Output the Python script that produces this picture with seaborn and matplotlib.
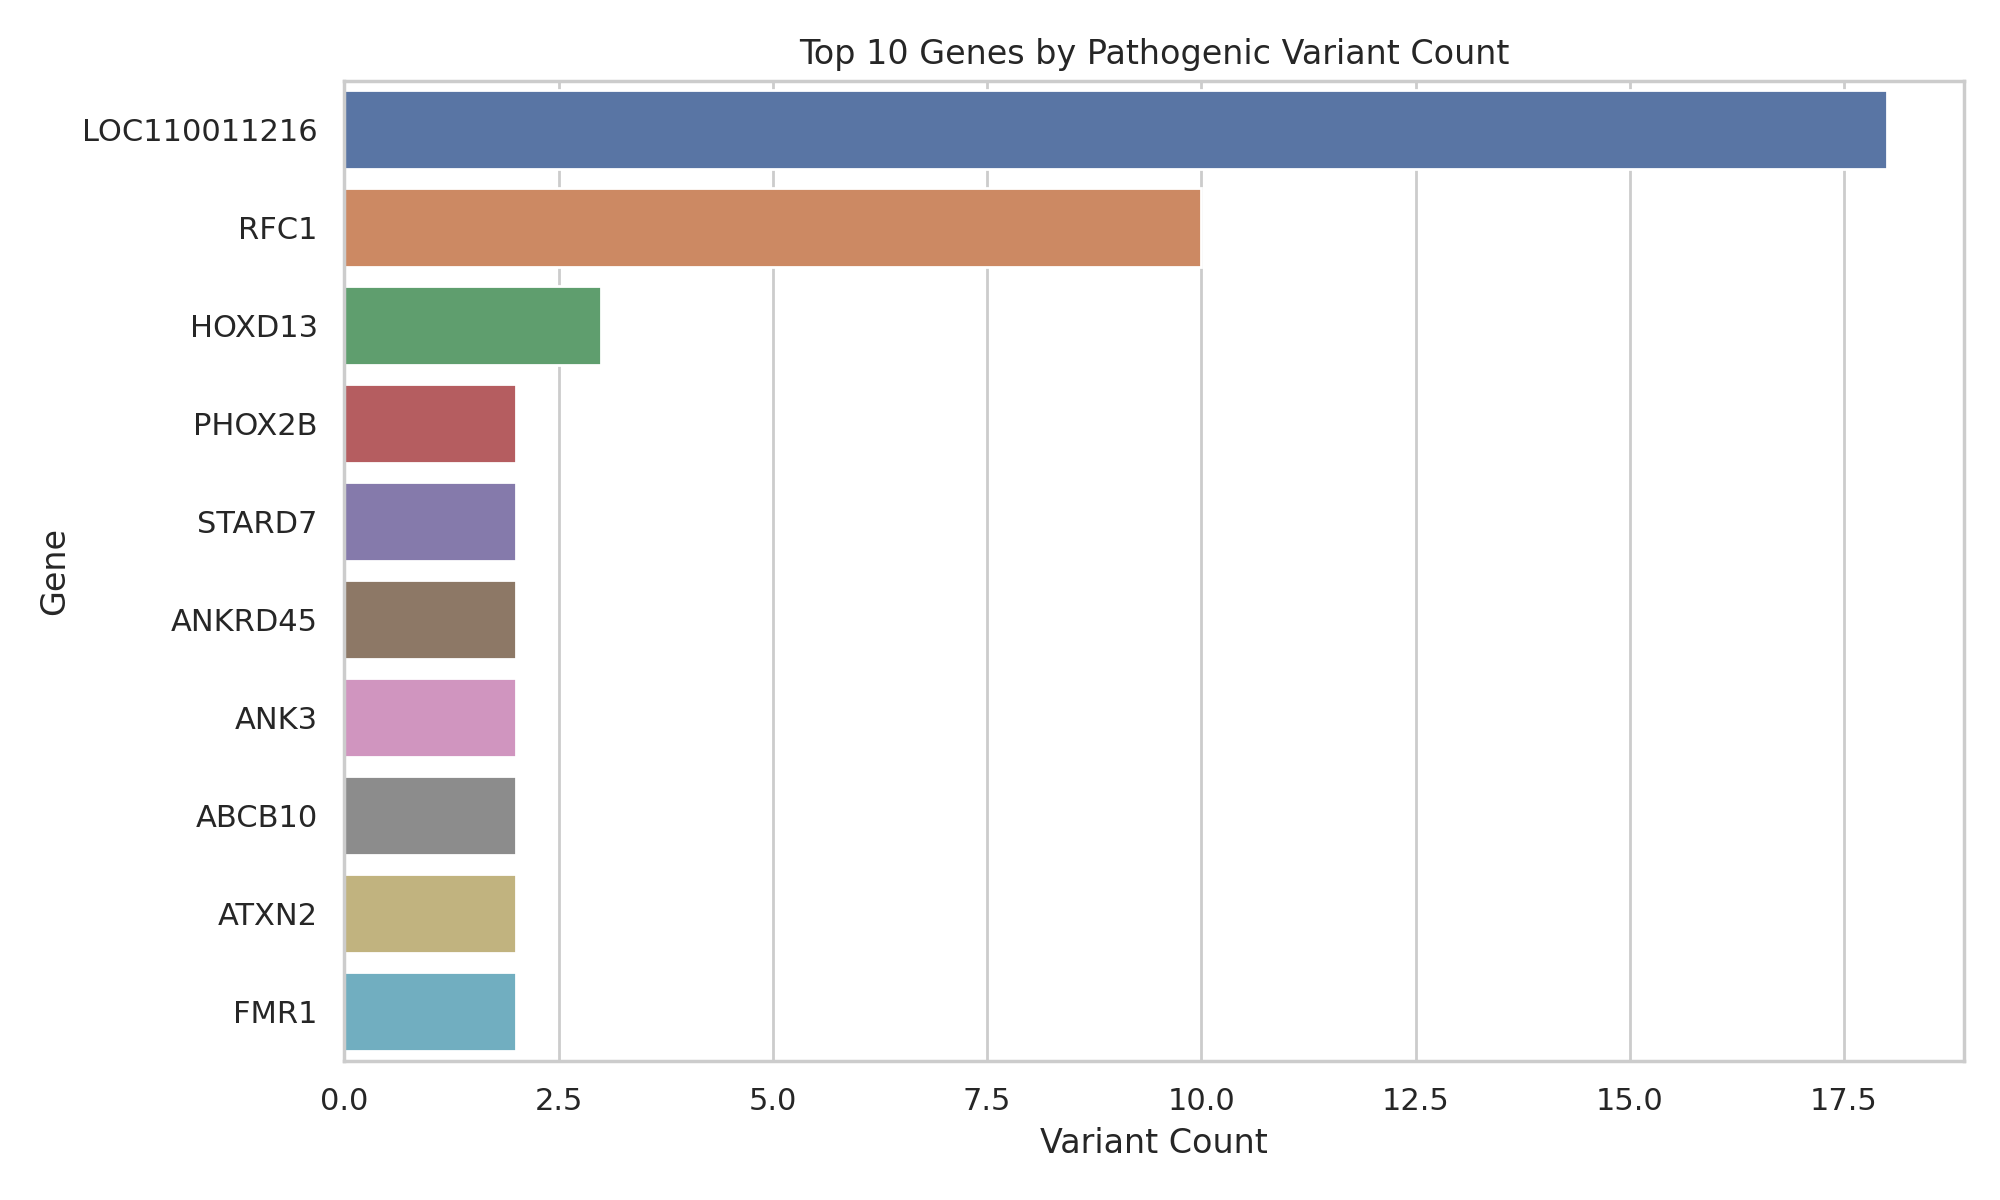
import pandas as pd
import matplotlib
matplotlib.use("Agg")
import matplotlib.pyplot as plt
import seaborn as sns

genes = ["LOC110011216", "RFC1", "HOXD13", "PHOX2B", "STARD7",
         "ANKRD45", "ANK3", "ABCB10", "ATXN2", "FMR1"]
counts = [18, 10, 3, 2, 2, 2, 2, 2, 2, 2]

df = pd.DataFrame({"Gene": genes, "Variant Count": counts})

sns.set_theme(style="whitegrid")

fig, ax = plt.subplots(figsize=(10, 6))

sns.barplot(
    data=df,
    x="Variant Count",
    y="Gene",
    hue="Gene",
    palette="deep",
    legend=False,
    ax=ax
)

ax.set_title("Top 10 Genes by Pathogenic Variant Count")
ax.set_xlabel("Variant Count")
ax.set_ylabel("Gene")

plt.tight_layout()
plt.savefig("out.png", dpi=200)
plt.close()
